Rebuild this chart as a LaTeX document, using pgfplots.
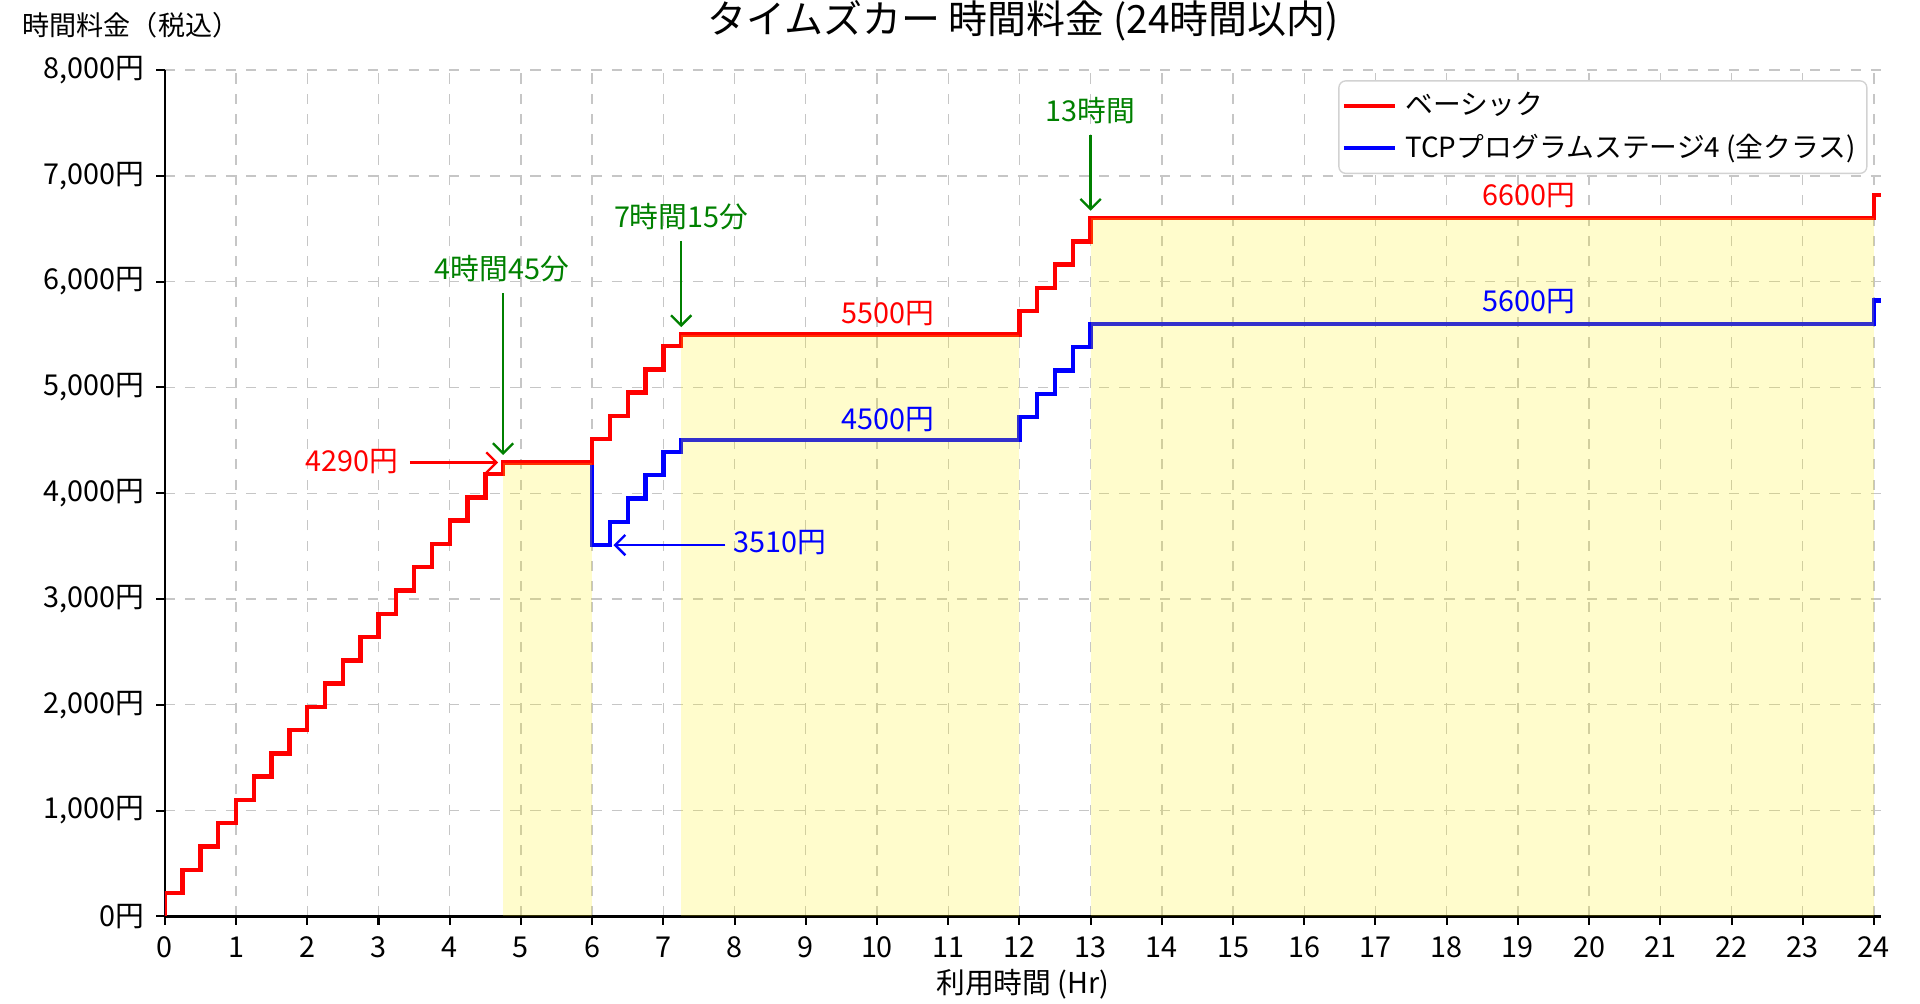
\documentclass[border=0pt]{standalone}
\usepackage{fontspec}
\setmainfont{Noto Sans CJK JP}
\usepackage{pgfplots}
\pgfplotsset{compat=1.18}
\usetikzlibrary{arrows.meta}
\definecolor{mplgreen}{RGB}{0,128,0}
\begin{document}
\begin{tikzpicture}
\begin{axis}[
  scale only axis, width=507pt, height=250pt,
  xmin=0, xmax=24.1, ymin=0, ymax=8000,
  axis lines*=left,
  axis line style={line width=0.7pt},
  xtick={0,1,...,24},
  ytick={0,1000,...,8000},
  yticklabels={0円,{1,000円},{2,000円},{3,000円},{4,000円},{5,000円},{6,000円},{7,000円},{8,000円}},
  tick align=outside,
  major tick length=2.5pt,
  tick style={black, line width=0.6pt},
  grid=major,
  major grid style={dashed, gray!45, line width=0.4pt},
  ticklabel style={font=\fontsize{8.5}{10}\selectfont},
  /pgf/number format/assume math mode=true,
  legend style={at={(1,1)}, anchor=north east, xshift=-4pt, yshift=-3pt, draw=gray!35, rounded corners=2pt, font=\fontsize{8.2}{9}\selectfont, row sep=-0.8pt, inner sep=0.8pt, nodes={inner sep=2.5pt}},
  legend cell align=left,
  legend image code/.code={\draw[#1] (0pt,0pt) -- (15pt,0pt);},
]
% TCP programme (drawn first, under the basic line)
\addplot[blue, line width=1.3pt, const plot mark left, forget plot] coordinates {
(0,0) (0,220) (0.25,440) (0.5,660) (0.75,880) (1,1100) (1.25,1320) (1.5,1540) (1.75,1760)
(2,1980) (2.25,2200) (2.5,2420) (2.75,2640) (3,2860) (3.25,3080) (3.5,3300) (3.75,3520)
(4,3740) (4.25,3960) (4.5,4180) (4.75,4290)
(6,3510) (6.25,3730) (6.5,3950) (6.75,4170) (7,4390) (7.25,4500)
(12,4720) (12.25,4940) (12.5,5160) (12.75,5380) (13,5600)
(24,5820) (24.1,5820)};
% Basic
\addplot[red, line width=1.3pt, const plot mark left] coordinates {
(0,0) (0,220) (0.25,440) (0.5,660) (0.75,880) (1,1100) (1.25,1320) (1.5,1540) (1.75,1760)
(2,1980) (2.25,2200) (2.5,2420) (2.75,2640) (3,2860) (3.25,3080) (3.5,3300) (3.75,3520)
(4,3740) (4.25,3960) (4.5,4180) (4.75,4290)
(6,4510) (6.25,4730) (6.5,4950) (6.75,5170) (7,5390) (7.25,5500)
(12,5720) (12.25,5940) (12.5,6160) (12.75,6380) (13,6600)
(24,6820) (24.1,6820)};
\addlegendentry{ベーシック}
\addlegendimage{blue, line width=1.3pt}
\addlegendentry{TCPプログラムステージ4 (全クラス)}
% yellow cap regions
\addplot[draw=none, fill=yellow, fill opacity=0.2, forget plot] coordinates {(4.75,4290) (6,4290)} \closedcycle;
\addplot[draw=none, fill=yellow, fill opacity=0.2, forget plot] coordinates {(7.25,5500) (12,5500)} \closedcycle;
\addplot[draw=none, fill=yellow, fill opacity=0.2, forget plot] coordinates {(13,6600) (24,6600)} \closedcycle;
% annotations
\begin{scope}[font=\fontsize{8.5}{10}\selectfont]
\node[red] at (axis cs:2.63,4300) {4290円};
\draw[red, line width=0.7pt, -{Straight Barb[length=3pt,width=6pt]}] (axis cs:3.44,4290) -- (axis cs:4.68,4290);
\node[blue] at (axis cs:8.64,3530) {3510円};
\draw[blue, line width=0.7pt, -{Straight Barb[length=3pt,width=6pt]}] (axis cs:7.87,3510) -- (axis cs:6.3,3510);
\node[mplgreen] at (axis cs:4.73,6120) {4時間45分};
\draw[mplgreen, line width=0.7pt, -{Straight Barb[length=3pt,width=6pt]}] (axis cs:4.75,5890) -- (axis cs:4.75,4360);
\node[mplgreen] at (axis cs:7.25,6610) {7時間15分};
\draw[mplgreen, line width=0.7pt, -{Straight Barb[length=3pt,width=6pt]}] (axis cs:7.25,6385) -- (axis cs:7.25,5570);
\node[mplgreen] at (axis cs:13,7620) {13時間};
\draw[mplgreen, line width=0.7pt, -{Straight Barb[length=3pt,width=6pt]}] (axis cs:13,7390) -- (axis cs:13,6670);
\node[red] at (axis cs:10.15,5700) {5500円};
\node[blue] at (axis cs:10.15,4700) {4500円};
\node[red] at (axis cs:19.16,6810) {6600円};
\node[blue] at (axis cs:19.16,5810) {5600円};
\end{scope}
\end{axis}
\node[inner sep=0pt, font=\fontsize{11.5}{13}\selectfont] at ([yshift=14.5pt]current axis.north) {タイムズカー 時間料金 (24時間以内)};
\node[inner sep=0pt, font=\fontsize{8.5}{10}\selectfont] at ([yshift=-20pt]current axis.south) {利用時間 (Hr)};
\node[inner sep=0pt, font=\fontsize{8}{10}\selectfont] at ([xshift=-10pt,yshift=13.3pt]current axis.north west) {時間料金（税込）};
\path ([shift={(-48.7pt,-25.7pt)}]current axis.south west) rectangle ([shift={(11.5pt,20.7pt)}]current axis.north east);
\end{tikzpicture}
\end{document}
